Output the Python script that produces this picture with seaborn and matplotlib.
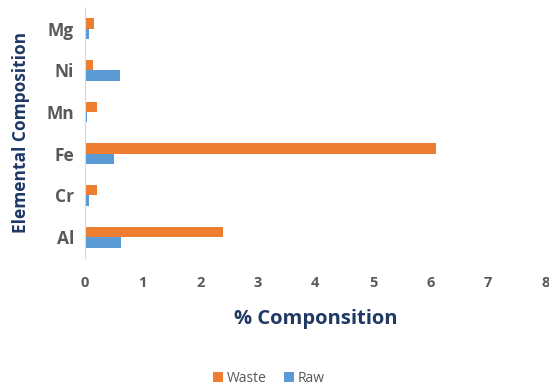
import pandas as pd
import matplotlib.pyplot as plt
import seaborn as sns

# Data
elements = ['Mg', 'Ni', 'Mn', 'Fe', 'Cr', 'Al']
waste = [0.16, 0.13, 0.20, 6.09, 0.21, 2.40]
raw = [0.075, 0.60, 0.03, 0.50, 0.075, 0.62]

df = pd.DataFrame({
    'Element': elements * 2,
    'Value': waste + raw,
    'Sample': ['Waste'] * len(elements) + ['Raw'] * len(elements),
})

sns.set_style('white')
plt.rcParams['font.family'] = ['Open Sans', 'DejaVu Sans']

fig, ax = plt.subplots(figsize=(5.49, 3.85), dpi=100)
sns.barplot(data=df, y='Element', x='Value', hue='Sample', order=elements,
            hue_order=['Waste', 'Raw'], palette=['#ED7D31', '#5B9BD5'],
            saturation=1, width=0.5, linewidth=0, orient='h', ax=ax, legend=True)

ax.set_xlim(0, 8)
ax.set_xticks(range(0, 9))
ax.set_xlabel('% Componsition', fontsize=14.5, fontweight='bold', color='#1F3864', labelpad=14)
ax.set_ylabel('Elemental Composition', fontsize=12.5, fontweight='bold', color='#1F3864', labelpad=12)
ax.tick_params(axis='x', labelsize=10.5, colors='#595959', length=0, pad=13)
ax.tick_params(axis='y', labelsize=12.5, colors='#595959', length=0, pad=8)
for lbl in ax.get_xticklabels() + ax.get_yticklabels():
    lbl.set_fontweight('bold')

for side in ['top', 'right', 'bottom']:
    ax.spines[side].set_visible(False)
ax.spines['left'].set_color('#D9D9D9')

handles, labels = ax.get_legend_handles_labels()
ax.get_legend().remove()
fig.legend(handles, labels, loc='lower center', ncol=2, frameon=False,
           fontsize=10, handlelength=0.7, handleheight=0.7, columnspacing=1.2,
           handletextpad=0.3, labelcolor='#595959', bbox_to_anchor=(0.49, -0.035))

fig.subplots_adjust(left=0.155, right=0.994, top=0.98, bottom=0.33)
plt.savefig('out.png', dpi=100)
